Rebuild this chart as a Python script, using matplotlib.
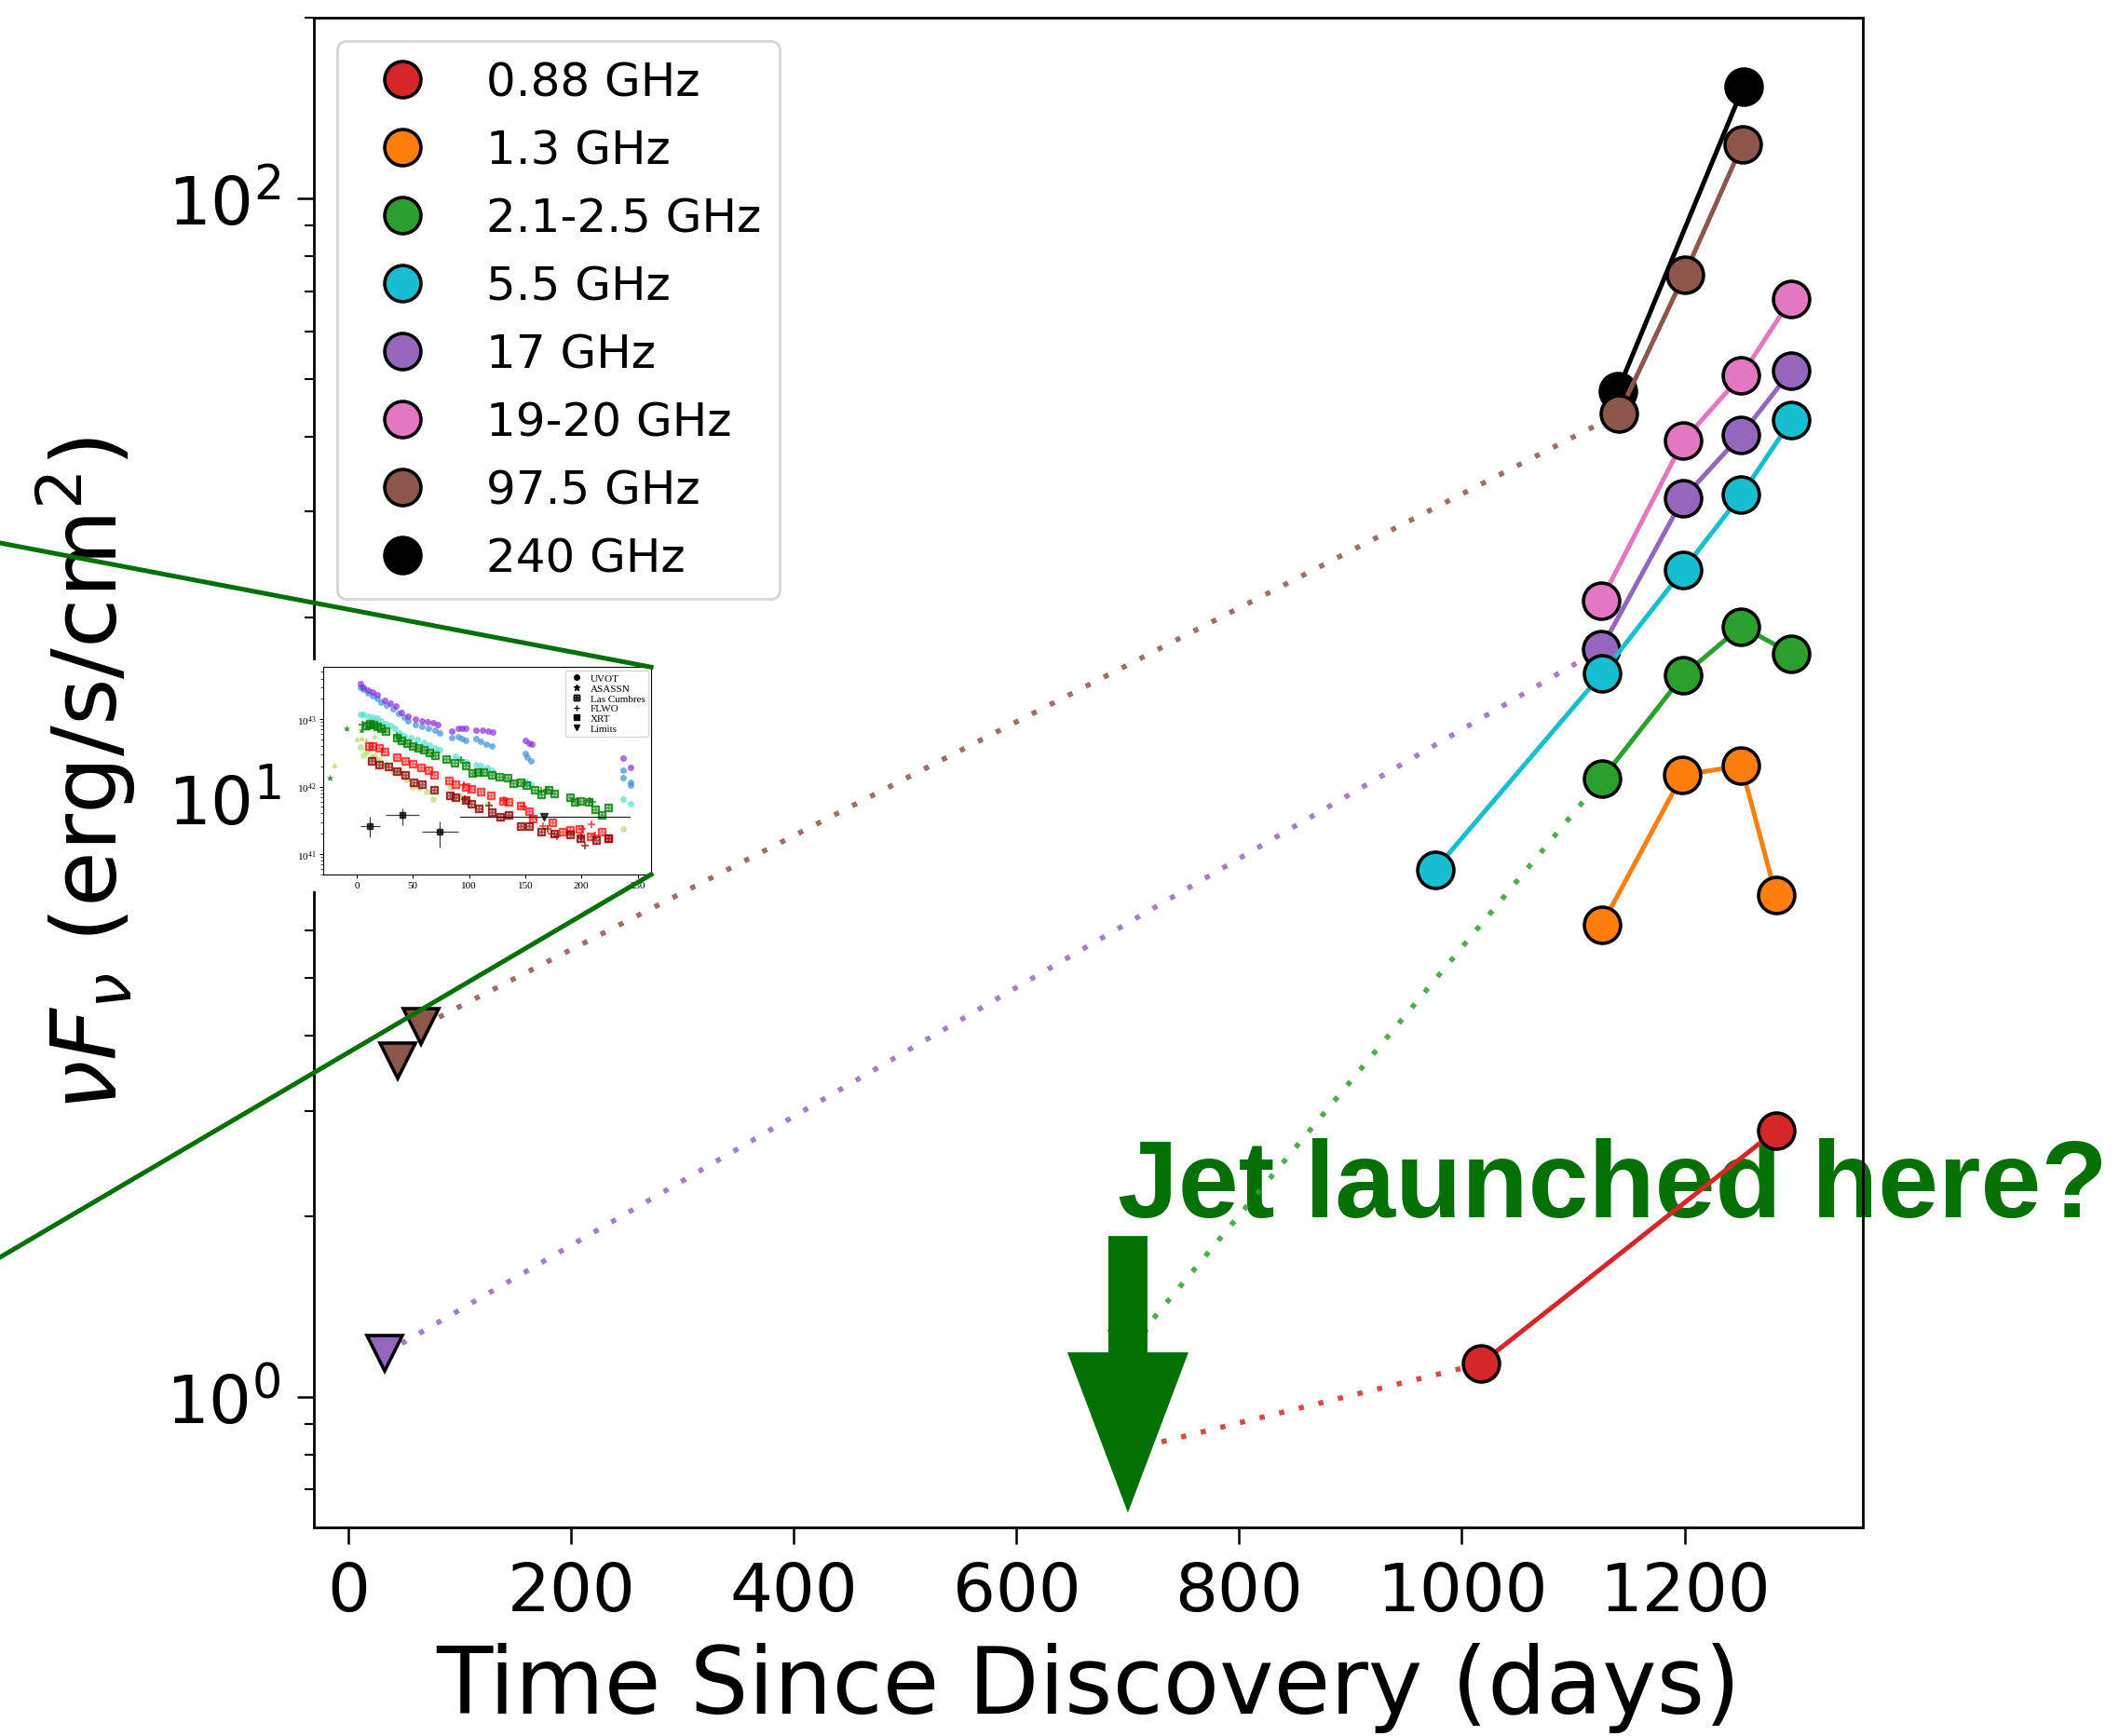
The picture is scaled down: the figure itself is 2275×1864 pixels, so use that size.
import matplotlib
matplotlib.use('Agg')
import matplotlib.pyplot as plt
from matplotlib.lines import Line2D
from matplotlib.patches import Rectangle
import numpy as np

# ---- main panel: radio nuFnu vs time (days since discovery) ----
bands = ['0.88 GHz', '1.3 GHz', '2.1-2.5 GHz', '5.5 GHz', '17 GHz', '19-20 GHz', '97.5 GHz', '240 GHz']
band_colors = ['#d62728', '#ff7f0e', '#2ca02c', '#17becf', '#9467bd', '#e377c2', '#8c564b', 'black']

t_088 = [1017, 1282]
f_088 = [1.135, 2.78]
t_13 = [1126, 1198, 1251, 1282]
f_13 = [6.14, 10.9, 11.3, 6.88]
t_22 = [1126, 1199, 1251, 1296]
f_22 = [10.75, 16.0, 19.3, 17.4]
t_55 = [976, 1126, 1199, 1251, 1296]
f_55 = [7.58, 16.1, 24.0, 32.0, 42.6]
t_17 = [1125, 1199, 1251, 1296]
f_17 = [17.7, 31.6, 40.3, 51.6]
t_20 = [1125, 1199, 1251, 1296]
f_20 = [21.3, 39.4, 50.6, 68.0]
t_975 = [1141, 1200, 1252]
f_975 = [43.7, 74.6, 123.0]
t_240 = [1140, 1253]
f_240 = [47.7, 153.8]

# upper limits (triangles)
lim_t_088 = [695]
lim_f_088 = [0.81]
lim_t_22 = [700]
lim_f_22 = [1.2]
lim_t_17 = [32]
lim_f_17 = [1.18]
lim_t_975 = [44, 65]
lim_f_975 = [3.63, 4.15]

# ---- inset: optical/UV/X-ray luminosity (log10 erg/s) ----
uv_purple_t = [3, 6, 10, 14, 18, 25, 30, 35, 40, 46, 52, 58, 63, 68, 72, 85, 90, 94, 97, 106, 112, 117, 121, 150, 153, 156, 237, 244]
uv_purple_l = [43.52, 43.47, 43.43, 43.40, 43.36, 43.28, 43.24, 43.19, 43.10, 43.05, 43.00, 42.98, 42.96, 42.95, 42.92, 42.82, 42.86, 42.87, 42.87, 42.84, 42.83, 42.82, 42.81, 42.68, 42.65, 42.63, 42.42, 42.28]
uv_blue_t = [3, 6, 10, 14, 18, 22, 27, 32, 37, 42, 46, 52, 58, 64, 70, 74, 85, 90, 94, 97, 106, 110, 115, 120, 150, 152, 155, 237, 237, 244, 244]
uv_blue_l = [43.47, 43.44, 43.39, 43.35, 43.30, 43.25, 43.21, 43.15, 43.09, 43.03, 42.98, 42.92, 42.89, 42.86, 42.83, 42.79, 42.72, 42.74, 42.71, 42.69, 42.71, 42.67, 42.63, 42.60, 42.49, 42.44, 42.38, 42.24, 42.13, 42.07, 42.02]
uv_cyan_t = [3, 6, 10, 14, 18, 22, 26, 30, 34, 38, 42, 48, 54, 60, 65, 70, 74, 88, 92, 97, 106, 110, 116, 120, 150, 155, 237, 244]
uv_cyan_l = [43.07, 43.07, 43.05, 43.03, 43.02, 42.98, 42.94, 42.90, 42.86, 42.80, 42.76, 42.73, 42.70, 42.66, 42.62, 42.58, 42.55, 42.45, 42.40, 42.37, 42.33, 42.31, 42.28, 42.25, 42.08, 42.03, 41.81, 41.74]
uv_lgreen_t = [3, 6, 9, 13, 16, 20, 26, 33, 38, 44, 50, 56, 62, 68, 84, 91, 117, 237]
uv_lgreen_l = [42.59, 42.47, 42.52, 42.43, 42.45, 42.40, 42.33, 42.21, 42.25, 42.10, 42.00, 41.98, 41.93, 41.81, 42.00, 41.86, 41.75, 41.37]
asassn_green_t = [-24, -9, 4, 9]
asassn_green_l = [42.13, 42.86, 42.83, 42.88]
asassn_lgreen_t = [-20, 0, 4, 8, 16]
asassn_lgreen_l = [42.31, 42.70, 42.71, 42.68, 42.74]
lco_green_t = [8, 12, 15, 18, 22, 26, 36, 40, 45, 50, 55, 60, 65, 70, 80, 87, 97, 103, 108, 113, 120, 127, 134, 139, 146, 151, 158, 164, 171, 176, 190, 194, 199, 206, 212, 218, 224]
lco_green_l = [42.90, 42.93, 42.92, 42.89, 42.86, 42.82, 42.72, 42.68, 42.64, 42.60, 42.57, 42.55, 42.50, 42.46, 42.41, 42.36, 42.31, 42.20, 42.22, 42.22, 42.18, 42.15, 42.13, 42.05, 42.06, 42.02, 41.95, 41.89, 41.95, 41.90, 41.84, 41.78, 41.79, 41.78, 41.67, 41.58, 41.69]
flwo_green_t = [5, 14, 36, 93, 164, 169, 207, 210]
flwo_green_l = [42.92, 42.90, 42.75, 42.40, 41.94, 41.96, 41.79, 41.77]
lco_red_t = [11, 14, 20, 25, 36, 43, 50, 57, 64, 69, 82, 88, 97, 102, 110, 119, 130, 135, 146, 153, 157, 174, 183, 190, 198, 208, 218, 224]
lco_red_l = [42.60, 42.60, 42.58, 42.52, 42.43, 42.38, 42.34, 42.28, 42.25, 42.18, 42.09, 42.04, 42.00, 41.97, 41.93, 41.87, 41.79, 41.77, 41.72, 41.64, 41.52, 41.47, 41.33, 41.36, 41.38, 41.26, 41.33, 41.23]
flwo_red_t = [95, 131, 148, 166, 173, 178, 201, 209, 212]
flwo_red_l = [42.02, 41.80, 41.70, 41.41, 41.30, 41.26, 41.38, 41.44, 41.28]
lco_dred_t = [13, 20, 28, 36, 43, 51, 58, 69, 83, 88, 97, 102, 109, 120, 128, 135, 146, 153, 164, 176, 190, 199, 213, 224]
lco_dred_l = [42.38, 42.32, 42.30, 42.23, 42.18, 42.06, 42.04, 41.96, 41.87, 41.84, 41.80, 41.74, 41.68, 41.62, 41.56, 41.58, 41.41, 41.41, 41.33, 41.31, 41.29, 41.23, 41.21, 41.23]
flwo_dred_t = [96, 118, 170, 200, 203]
flwo_dred_l = [41.82, 41.72, 41.37, 41.25, 41.13]
xrt_t = [12, 41, 74]
xrt_l = [41.41, 41.575, 41.33]
xrt_terr = [9, 15, 16]
xrt_lerr_lo = [0.16, 0.15, 0.23]
xrt_lerr_hi = [0.15, 0.10, 0.15]
xlim_span = [92, 243]
xlim_level = 41.55
xlim_tri_t = [167]

jet_green = '#037003'

fig = plt.figure(figsize=(22.75, 18.65), dpi=100)
ax = fig.add_axes([0.148, 0.1201, 0.731, 0.869])

dot_style = (0, (1.0, 2.9))
mk = dict(marker='o', ms=28, mec='black', mew=2.6)
tri = dict(marker='v', ms=28, mec='black', mew=2.6, ls='none')

# dotted links from last limit to first detection
for lt, lf, t, f, i in [(lim_t_088, lim_f_088, t_088, f_088, 0), (lim_t_22, lim_f_22, t_22, f_22, 2),
                        (lim_t_17, lim_f_17, t_17, f_17, 4), (lim_t_975, lim_f_975, t_975, f_975, 6)]:
    ax.plot([lt[-1], t[0]], [lf[-1], f[0]], ls=dot_style, lw=4.0, color=band_colors[i],
            alpha=0.85, dash_capstyle='butt')

ax.plot(lim_t_088, lim_f_088, color=band_colors[0], **tri)
ax.plot(lim_t_22, lim_f_22, color=band_colors[2], **tri)
ax.plot(lim_t_17, lim_f_17, color=band_colors[4], **tri)
ax.plot(lim_t_975, lim_f_975, color=band_colors[6], **tri)

series = [(t_088, f_088, 0), (t_13, f_13, 1), (t_22, f_22, 2), (t_17, f_17, 4),
          (t_55, f_55, 3), (t_20, f_20, 5), (t_240, f_240, 7), (t_975, f_975, 6)]
for t, f, i in series:
    ax.plot(t, f, color=band_colors[i], lw=3.6, mfc=band_colors[i], **mk)

ax.set_yscale('log')
ax.set_xlim(-31.5, 1360)
ax.set_ylim(0.605, 200)
ax.set_xticks(range(0, 1201, 200))
ax.tick_params(axis='both', which='major', labelsize=52, length=13, width=1.8, pad=12)
ax.tick_params(axis='y', which='minor', length=7, width=1.5)
for s in ax.spines.values():
    s.set_linewidth(2)
ax.set_xlabel('Time Since Discovery (days)', fontsize=71, labelpad=14)
ax.set_ylabel(r'$\nu F_\nu$ (erg/s/cm$^2$)', fontsize=70, labelpad=22)

handles = [Line2D([], [], ls='none', marker='o', ms=28, mfc=c, mec='black', mew=2.6) for c in band_colors]
leg = ax.legend(handles, bands, loc='upper left', fontsize=36, labelspacing=0.5, borderaxespad=0.5)
leg.get_frame().set_linewidth(2)

# jet annotation
ax.text(691, 2.0, 'Jet launched here?', family='Liberation Sans', weight='bold', fontsize=84,
        color=jet_green, ha='left', va='baseline', zorder=1, clip_on=False)
ax.annotate('', xy=(700, 0.64), xytext=(700, 1.854), annotation_clip=False, zorder=10,
            arrowprops=dict(arrowstyle='simple,head_length=1.24,head_width=0.936,tail_width=0.302',
                            mutation_scale=100, color=jet_green, lw=0, shrinkA=0, shrinkB=0))

# ---- inset (pasted optical light curve) ----
fig.add_artist(Rectangle((0.1371, 0.4863), 0.1728, 0.133, transform=fig.transFigure,
                         facecolor='white', edgecolor='none', zorder=1))
axins = fig.add_axes([0.1524, 0.496, 0.1549, 0.1194])
axins.set_zorder(2)

def lum(v):
    return 10 ** np.asarray(v, dtype=float)

box_mk = r'$\boxplus$'
axins.plot(uv_lgreen_t, lum(uv_lgreen_l), 'o', ms=5, color='yellowgreen', alpha=0.5, mec='none')
axins.plot(asassn_lgreen_t, lum(asassn_lgreen_l), '*', ms=6, color='yellowgreen', alpha=0.6, mec='none')
axins.plot(uv_cyan_t, lum(uv_cyan_l), 'o', ms=5, color='turquoise', alpha=0.65, mec='none')
axins.plot(uv_blue_t, lum(uv_blue_l), 'o', ms=5, color='#3d8fe0', alpha=0.7, mec='none')
axins.plot(uv_purple_t, lum(uv_purple_l), 'o', ms=5, color='blueviolet', alpha=0.7, mec='none')
axins.plot(lco_green_t, lum(lco_green_l), ls='none', marker=box_mk, ms=5.5, color='green', alpha=0.7)
axins.plot(flwo_green_t, lum(flwo_green_l), '+', ms=6, mew=1.2, color='green', alpha=0.8)
axins.plot(asassn_green_t, lum(asassn_green_l), '*', ms=6, color='green', alpha=0.8, mec='none')
axins.plot(lco_red_t, lum(lco_red_l), ls='none', marker=box_mk, ms=5.5, color='red', alpha=0.6)
axins.plot(flwo_red_t, lum(flwo_red_l), '+', ms=6, mew=1.2, color='red', alpha=0.7)
axins.plot(lco_dred_t, lum(lco_dred_l), ls='none', marker=box_mk, ms=5.5, color='darkred', alpha=0.7)
axins.plot(flwo_dred_t, lum(flwo_dred_l), '+', ms=6, mew=1.2, color='darkred', alpha=0.8)

xl = np.asarray(xrt_l)
axins.errorbar(xrt_t, lum(xrt_l), xerr=xrt_terr,
               yerr=[lum(xl) - lum(xl - np.asarray(xrt_lerr_lo)), lum(xl + np.asarray(xrt_lerr_hi)) - lum(xl)],
               fmt='s', ms=5, color='black', alpha=0.75, elinewidth=0.9, capsize=0)
axins.plot(xlim_span, lum([xlim_level, xlim_level]), color='black', lw=0.9, alpha=0.85)
axins.plot(xlim_tri_t, lum([xlim_level]), 'v', ms=6, color='black', alpha=0.75)

axins.set_yscale('log')
axins.set_xlim(-30, 262)
axins.set_ylim(5.0e40, 5.9e43)
axins.set_xticks(range(0, 251, 50))
axins.set_yticks([1e41, 1e42, 1e43])
axins.set_yticklabels([r'$\mathregular{10^{41}}$', r'$\mathregular{10^{42}}$', r'$\mathregular{10^{43}}$'],
                      family='Liberation Serif')
for lab in axins.get_xticklabels():
    lab.set_family('Liberation Serif')
axins.tick_params(labelsize=8, length=3, width=0.7, pad=2)
axins.tick_params(axis='y', which='minor', length=2, width=0.5)
for s in axins.spines.values():
    s.set_linewidth(0.8)

ins_handles = [Line2D([], [], ls='none', marker=m, ms=ms, color='black', mew=1)
               for m, ms in [('o', 4), ('*', 5), (box_mk, 5), ('+', 5), ('s', 4), ('v', 5)]]
axins.legend(ins_handles, ['UVOT', 'ASASSN', 'Las Cumbres', 'FLWO', 'XRT', 'Limits'],
             loc='upper right', prop={'family': 'Liberation Serif', 'size': 8},
             handlelength=1.5, handletextpad=0.6, labelspacing=0.1, borderpad=0.3, borderaxespad=0.3)

# zoom lines from the inset corners to the left edge
pos = axins.get_position()
fig.add_artist(Line2D([0, pos.x1], [1 - 584 / 1865, pos.y1], transform=fig.transFigure,
                      color=jet_green, lw=3.6, zorder=3))
fig.add_artist(Line2D([0, pos.x1], [1 - 1351 / 1865, pos.y0], transform=fig.transFigure,
                      color=jet_green, lw=3.6, zorder=3))

fig.savefig('out.png', dpi=100)
